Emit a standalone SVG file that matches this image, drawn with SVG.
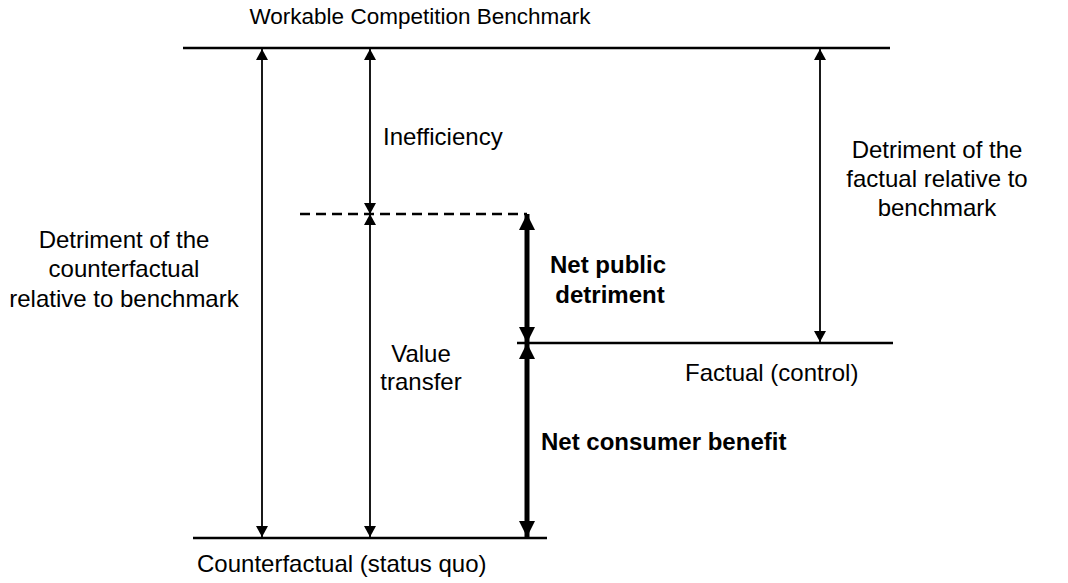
<svg xmlns="http://www.w3.org/2000/svg" width="1068" height="583" viewBox="0 0 1068 583">
  <style>
    .lbl { font-family: "Liberation Sans", Arial, sans-serif; font-size: 24px; fill: #000; }
    .title { font-size: 22.5px; }
    .bold { font-weight: bold; }
    .mid { text-anchor: middle; }
    .level { stroke: #000; stroke-width: 2.5; fill: none; }
    .dash { stroke-dasharray: 10 6; }
    .thin { stroke: #000; stroke-width: 1.8; fill: none; }
    .thick { stroke: #000; stroke-width: 5; fill: none; }
  </style>
  <defs>
    <marker id="headThin" viewBox="0 0 10 10" refX="10" refY="5" markerWidth="11" markerHeight="12" preserveAspectRatio="none" markerUnits="userSpaceOnUse" orient="auto-start-reverse">
      <path d="M0,0 L10,5 L0,10 Z" fill="#000"/>
    </marker>
    <marker id="headThick" viewBox="0 0 10 10" refX="10" refY="5" markerWidth="16" markerHeight="16" preserveAspectRatio="none" markerUnits="userSpaceOnUse" orient="auto-start-reverse">
      <path d="M0,0 L10,5 L0,10 Z" fill="#000"/>
    </marker>
  </defs>

  <!-- horizontal levels -->
  <g id="benchmark">
    <line class="level" x1="183" y1="48" x2="890" y2="48"/>
    <text class="lbl title mid" x="420" y="24">Workable Competition Benchmark</text>
  </g>
  <g id="intermediate">
    <line class="level dash" x1="300" y1="214" x2="527" y2="214"/>
  </g>
  <g id="factual">
    <line class="level" x1="517" y1="343" x2="893" y2="343"/>
    <text class="lbl" x="685" y="381">Factual (control)</text>
  </g>
  <g id="counterfactual">
    <line class="level" x1="193" y1="538" x2="547" y2="538"/>
    <text class="lbl" x="197" y="572">Counterfactual (status quo)</text>
  </g>

  <!-- measurement labels -->
  <g id="detriment-counterfactual">
    <text class="lbl mid" x="124" y="248">Detriment of the</text>
    <text class="lbl mid" x="124" y="277">counterfactual</text>
    <text class="lbl mid" x="124" y="307">relative to benchmark</text>
  </g>
  <g id="inefficiency">
    <text class="lbl" x="383" y="145">Inefficiency</text>
  </g>
  <g id="value-transfer">
    <text class="lbl mid" x="421" y="362">Value</text>
    <text class="lbl mid" x="421" y="390">transfer</text>
  </g>
  <g id="net-public-detriment">
    <text class="lbl bold mid" x="608" y="273">Net public</text>
    <text class="lbl bold mid" x="610" y="303">detriment</text>
  </g>
  <g id="net-consumer-benefit">
    <text class="lbl bold" x="541" y="450">Net consumer benefit</text>
  </g>
  <g id="detriment-factual">
    <text class="lbl mid" x="937" y="158">Detriment of the</text>
    <text class="lbl mid" x="937" y="187">factual relative to</text>
    <text class="lbl mid" x="937" y="216">benchmark</text>
  </g>

  <!-- double-headed measurement arrows -->
  <g id="connectors">
    <line class="thin" x1="262" y1="49" x2="262" y2="537" marker-start="url(#headThin)" marker-end="url(#headThin)"/>
    <line class="thin" x1="370" y1="49" x2="370" y2="214" marker-start="url(#headThin)" marker-end="url(#headThin)"/>
    <line class="thin" x1="370" y1="214" x2="370" y2="537" marker-start="url(#headThin)" marker-end="url(#headThin)"/>
    <line class="thin" x1="820" y1="49" x2="820" y2="342" marker-start="url(#headThin)" marker-end="url(#headThin)"/>
    <line class="thick" x1="527" y1="214" x2="527" y2="343" marker-start="url(#headThick)" marker-end="url(#headThick)"/>
    <line class="thick" x1="527" y1="343" x2="527" y2="537" marker-start="url(#headThick)" marker-end="url(#headThick)"/>
  </g>
</svg>
